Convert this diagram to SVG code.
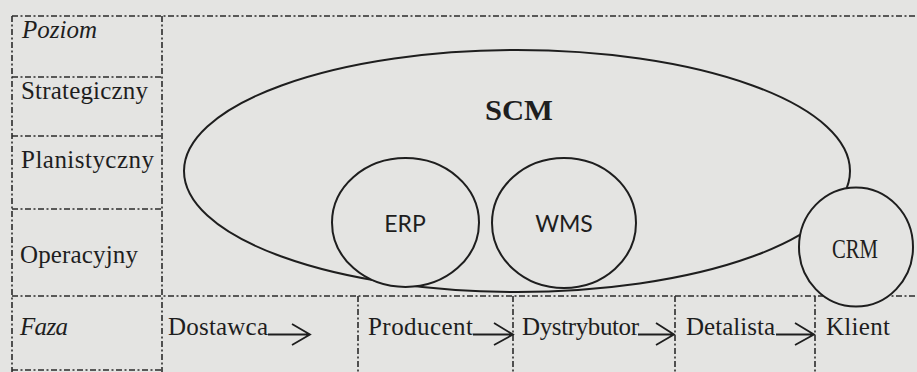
<svg xmlns="http://www.w3.org/2000/svg" width="917" height="372" viewBox="0 0 917 372">
  <defs>
    <style>
      .grid { fill: none; stroke: #2b2b2b; stroke-width: 1.6; stroke-dasharray: 6 2.5 2 2.5; }
      .oval { fill: #e4e4e2; stroke: #1e1e1e; stroke-width: 2; }
      .lbl { font-family: "Liberation Serif", "Times New Roman", serif; font-size: 25px; fill: #1e1e1e; }
      .it { font-style: italic; }
      .sans { font-family: Lato, "Open Sans", "Liberation Sans", sans-serif; font-size: 23px; fill: #1e1e1e; text-anchor: middle; }
      .arrow { fill: none; stroke: #1e1e1e; stroke-width: 1.8; stroke-linejoin: miter; }
    </style>
  </defs>

  <rect x="0" y="0" width="917" height="372" fill="#e4e4e2"/>

  <!-- table grid -->
  <g id="grid">
    <path class="grid" d="M12 16 H917"/>
    <path class="grid" d="M12 16 V372"/>
    <path class="grid" d="M162 16 V372"/>
    <path class="grid" d="M12 77 H162"/>
    <path class="grid" d="M12 136 H162"/>
    <path class="grid" d="M12 209 H162"/>
    <path class="grid" d="M12 296 H917"/>
    <path class="grid" d="M12 370 H162"/>
    <path class="grid" d="M358 296 V372"/>
    <path class="grid" d="M513 296 V372"/>
    <path class="grid" d="M675 296 V372"/>
    <path class="grid" d="M815 296 V372"/>
  </g>

  <!-- level labels -->
  <g id="levels">
    <text class="lbl it" x="22" y="38" textLength="75">Poziom</text>
    <text class="lbl" x="21" y="99" textLength="127">Strategiczny</text>
    <text class="lbl" x="21" y="168" textLength="133">Planistyczny</text>
    <text class="lbl" x="20" y="263" textLength="118">Operacyjny</text>
    <text class="lbl it" x="20" y="335" textLength="48">Faza</text>
  </g>

  <!-- supply chain phases -->
  <g id="phase-dostawca"><text class="lbl" x="168" y="335" textLength="100">Dostawca</text></g>
  <g id="phase-producent"><text class="lbl" x="368" y="335" textLength="105">Producent</text></g>
  <g id="phase-dystrybutor"><text class="lbl" x="522" y="335" textLength="117">Dystrybutor</text></g>
  <g id="phase-detalista"><text class="lbl" x="686" y="335" textLength="89">Detalista</text></g>
  <g id="phase-klient"><text class="lbl" x="826" y="335" textLength="64">Klient</text></g>

  <!-- systems -->
  <g id="scm">
    <ellipse class="oval" cx="517" cy="171" rx="333" ry="121"/>
    <text x="519" y="120" text-anchor="middle" font-family="'Liberation Serif', 'Times New Roman', serif" font-size="30" font-weight="bold" fill="#1e1e1e" textLength="68" lengthAdjust="spacingAndGlyphs">SCM</text>
  </g>
  <g id="erp">
    <ellipse class="oval" cx="405.5" cy="222.5" rx="73.5" ry="64.5"/>
    <text class="sans" x="405" y="232">ERP</text>
  </g>
  <g id="wms">
    <ellipse class="oval" cx="564" cy="223" rx="72" ry="65"/>
    <text class="sans" x="564" y="232">WMS</text>
  </g>
  <g id="crm">
    <ellipse class="oval" cx="856" cy="247" rx="57" ry="59.5"/>
    <text x="855" y="258" text-anchor="middle" font-family="'Liberation Serif', 'Times New Roman', serif" font-size="27" fill="#1e1e1e" textLength="46" lengthAdjust="spacingAndGlyphs">CRM</text>
  </g>

  <!-- flow arrows between phases -->
  <g id="connectors">
    <path class="arrow" d="M268 334.5 H309 M292 324 L310 334.5 L292 345"/>
    <path class="arrow" d="M473 334.5 H512 M494 323 L513 334.5 L494 345"/>
    <path class="arrow" d="M638 334.5 H672 M656 323 L674 334.5 L656 345"/>
    <path class="arrow" d="M776 334.5 H812 M795 323 L814 334.5 L795 345"/>
  </g>
</svg>
